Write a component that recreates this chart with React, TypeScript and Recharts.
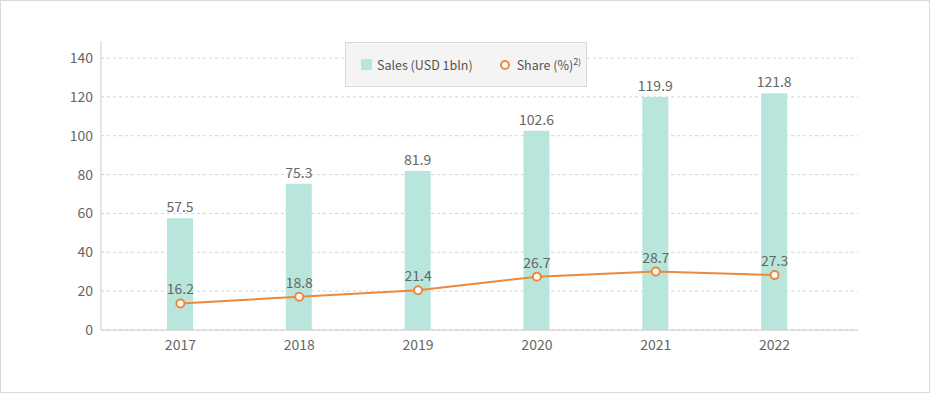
import React from 'react'
import {
  ComposedChart,
  Bar,
  Line,
  XAxis,
  YAxis,
  CartesianGrid,
  LabelList
} from 'recharts'

const years = ['2017', '2018', '2019', '2020', '2021', '2022']
const sales = [57.5, 75.3, 81.9, 102.6, 119.9, 121.8]
const share = [16.2, 18.8, 21.4, 26.7, 28.7, 27.3]
const salesTicks = [0, 20, 40, 60, 80, 100, 120, 140]

const data = years.map((year, i) => ({ year, sales: sales[i], share: share[i] }))

const FONT = '"Noto Sans CJK KR", "Noto Sans", sans-serif'
const TEXT = '#666666'
const MINT = '#b8e6dc'
const ORANGE = '#f0883a'

function ChartLegend() {
  return (
    <div
      style={{
        position: 'absolute',
        left: 345,
        top: 42,
        width: 242,
        height: 45,
        boxSizing: 'border-box',
        background: '#f4f4f4',
        border: '1px solid #d9d9d9',
        fontFamily: FONT,
        fontSize: 12.5,
        color: '#555',
        display: 'flex',
        alignItems: 'center',
        whiteSpace: 'nowrap'
      }}
    >
      <span style={{ flex: 'none', width: 11, height: 11, background: MINT, marginLeft: 15, marginRight: 5 }} />
      <span style={{ flex: 'none' }}>Sales (USD 1bln)</span>
      <span
        style={{
          flex: 'none',
          width: 10,
          height: 10,
          boxSizing: 'border-box',
          border: `2px solid ${ORANGE}`,
          borderRadius: '50%',
          background: '#fff',
          marginLeft: 27,
          marginRight: 7
        }}
      />
      <span style={{ flex: 'none' }}>
        Share (%)<sup style={{ fontSize: 9 }}>2)</sup>
      </span>
    </div>
  )
}

export default function App() {
  return (
    <div style={{ position: 'absolute', left: 0, top: 0, width: 930, height: 393, background: '#fff' }}>
      <ComposedChart
        width={930}
        height={393}
        data={data}
        margin={{ top: 41, right: 72, left: 0, bottom: 33 }}
        style={{ fontFamily: FONT }}
      >
        <CartesianGrid
          yAxisId="left"
          vertical={false}
          stroke="#d4d4d4"
          strokeDasharray="3 3"
          syncWithTicks
        />
        <XAxis
          dataKey="year"
          padding={{ left: 20, right: 24 }}
          tickLine={false}
          axisLine={{ stroke: '#cccccc' }}
          tick={{ fill: TEXT, fontSize: 14 }}
          tickMargin={4}
          height={30}
        />
        <YAxis
          yAxisId="left"
          width={101}
          domain={[0, 148.75]}
          ticks={salesTicks}
          tickLine={false}
          axisLine={{ stroke: '#cccccc' }}
          tick={{ fill: TEXT, fontSize: 14 }}
        />
        <YAxis yAxisId="right" orientation="right" hide domain={[5.8, 119]} allowDataOverflow />
        <Bar yAxisId="left" dataKey="sales" fill={MINT} barSize={26} isAnimationActive={false}>
          <LabelList dataKey="sales" position="top" offset={6} fill={TEXT} fontSize={14} />
        </Bar>
        <Line
          yAxisId="right"
          dataKey="share"
          stroke={ORANGE}
          strokeWidth={2}
          dot={{ r: 4, fill: '#fff', stroke: ORANGE, strokeWidth: 2 }}
          activeDot={false}
          isAnimationActive={false}
        >
          <LabelList dataKey="share" position="top" offset={9} fill={TEXT} fontSize={14} />
        </Line>
      </ComposedChart>
      <ChartLegend />
      <div
        style={{
          position: 'absolute',
          left: 0,
          top: 0,
          width: 930,
          height: 393,
          boxSizing: 'border-box',
          border: '1px solid #d9d9d9',
          pointerEvents: 'none'
        }}
      />
    </div>
  )
}
